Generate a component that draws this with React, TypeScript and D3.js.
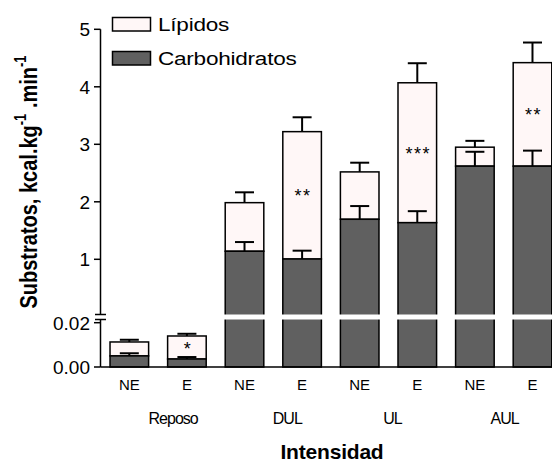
import React, { useEffect, useRef } from "react";
import * as d3 from "d3";

// bar order: Reposo NE, Reposo E, DUL NE, DUL E, UL NE, UL E, AUL NE, AUL E
const barLabels = ["NE", "E", "NE", "E", "NE", "E", "NE", "E"];
const groups = ["Reposo", "DUL", "UL", "AUL"];
const groupShift = [15, 14, 4, 1];
const carbohidratos = [0.005, 0.0036, 1.14, 1.005, 1.696, 1.637, 2.62, 2.62];
const carbErr = [0.0012, 0.0009, 0.16, 0.145, 0.23, 0.2, 0.25, 0.27];
const lipidos = [0.0063, 0.0104, 0.845, 2.215, 0.824, 2.433, 0.33, 1.8];
const totalErr = [0.001, 0.001, 0.18, 0.25, 0.16, 0.34, 0.11, 0.35];
const significance = ["", "*", "", "**", "", "***", "", "**"];
const upperTicks = [1, 2, 3, 4, 5];
const lowerTicks = [0, 0.02];

const FONT = "'Liberation Sans', Arial, sans-serif";
const LIP_FILL = "#fff7f7";
const CARB_FILL = "#606060";

export default function App() {
  const ref = useRef<SVGSVGElement>(null);

  useEffect(() => {
    const svg = d3.select(ref.current);
    svg.selectAll("*").remove();

    const axisX = 100.5;
    const baseY = 367;
    const breakLow = 319.5; // top of lower panel
    const breakHigh = 314.5; // bottom of upper panel

    const x = d3
      .scaleBand<number>()
      .domain(d3.range(barLabels.length))
      .range([100, 561.8])
      .paddingInner(0.33)
      .paddingOuter(0.174);

    const yLow = d3.scaleLinear().domain([0, 0.02]).range([baseY, 322.7]);
    const yHigh = d3.scaleLinear().domain([1, 5]).range([259.3, 29.3]);

    // map any value onto the broken axis
    const yv = (v: number) => (v <= 0.0215 ? yLow(v) : Math.min(yHigh(v), breakHigh));

    const bw = x.bandwidth();
    const g = svg.append("g");

    barLabels.forEach((_, i) => {
      const c = carbohidratos[i];
      const t = c + lipidos[i];
      const x0 = x(i)!;
      // lipid part
      g.append("rect")
        .attr("x", x0)
        .attr("y", yv(t))
        .attr("width", bw)
        .attr("height", yv(c) - yv(t))
        .attr("fill", LIP_FILL)
        .attr("stroke", "#000")
        .attr("stroke-width", 1.5);
      // carb part
      g.append("rect")
        .attr("x", x0)
        .attr("y", yv(c))
        .attr("width", bw)
        .attr("height", baseY - yv(c))
        .attr("fill", CARB_FILL)
        .attr("stroke", "#000")
        .attr("stroke-width", 1.5);

      // error bars
      const cx = x0 + bw / 2;
      [
        [t, t + totalErr[i]],
        [c, c + carbErr[i]],
      ].forEach(([v0, v1]) => {
        g.append("line")
          .attr("x1", cx).attr("x2", cx)
          .attr("y1", yv(v0)).attr("y2", yv(v1))
          .attr("stroke", "#000").attr("stroke-width", 2);
        g.append("line")
          .attr("x1", cx - 9.5).attr("x2", cx + 9.5)
          .attr("y1", yv(v1)).attr("y2", yv(v1))
          .attr("stroke", "#000").attr("stroke-width", 2);
      });

      if (significance[i]) {
        const mid = (yv(t) + yv(c)) / 2;
        g.append("text")
          .attr("x", cx + 1)
          .attr("y", mid + 7)
          .attr("text-anchor", "middle")
          .attr("font-family", FONT)
          .attr("font-size", 18)
          .attr("letter-spacing", 1.5)
          .text(significance[i]);
      }

      g.append("text")
        .attr("x", cx)
        .attr("y", 390)
        .attr("text-anchor", "middle")
        .attr("font-family", FONT)
        .attr("font-size", 15)
        .text(barLabels[i]);
    });

    // white gap of the axis break
    svg.append("rect")
      .attr("x", 102)
      .attr("y", breakHigh)
      .attr("width", 460)
      .attr("height", breakLow - breakHigh)
      .attr("fill", "#fff");

    // y axis segments
    const ax = svg.append("g").attr("stroke", "#000").attr("stroke-width", 1.5);
    ax.append("line").attr("x1", axisX).attr("x2", axisX).attr("y1", yHigh(5)).attr("y2", breakHigh);
    ax.append("line").attr("x1", axisX).attr("x2", axisX).attr("y1", breakLow).attr("y2", baseY);
    [breakHigh, breakLow].forEach((yy) => {
      ax.append("line").attr("x1", 95).attr("x2", 106).attr("y1", yy).attr("y2", yy);
    });
    ax.append("line").attr("x1", axisX).attr("x2", 552).attr("y1", baseY).attr("y2", baseY);

    const tickLab = (yy: number, label: string) => {
      ax.append("line").attr("x1", 94).attr("x2", axisX).attr("y1", yy).attr("y2", yy);
      svg.append("text")
        .attr("x", 90)
        .attr("y", yy)
        .attr("dy", "0.36em")
        .attr("text-anchor", "end")
        .attr("font-family", FONT)
        .attr("font-size", 19)
        .text(label);
    };
    upperTicks.forEach((v) => tickLab(yHigh(v), d3.format("d")(v)));
    lowerTicks.forEach((v) => tickLab(yLow(v), d3.format(".2f")(v)));

    // group labels
    groups.forEach((name, k) => {
      const cx = (x(2 * k)! + x(2 * k + 1)! + bw) / 2 + groupShift[k];
      svg.append("text")
        .attr("x", cx)
        .attr("y", 424)
        .attr("text-anchor", "middle")
        .attr("font-family", FONT)
        .attr("font-size", 16)
        .attr("letter-spacing", -1)
        .text(name);
    });

    // x title
    svg.append("text")
      .attr("x", 332)
      .attr("y", 459)
      .attr("text-anchor", "middle")
      .attr("font-family", FONT)
      .attr("font-size", 21)
      .attr("font-weight", "bold")
      .attr("letter-spacing", -0.2)
      .text("Intensidad");

    // y title (glyphs a little wider than tall, as in the reference)
    const yt = svg.append("text")
      .attr("transform", "translate(37,182) scale(1.2,1) rotate(-90)")
      .attr("text-anchor", "middle")
      .attr("font-family", FONT)
      .attr("font-size", 20)
      .attr("font-weight", "bold");
    yt.append("tspan").text("Substratos, kcal.kg");
    yt.append("tspan").attr("font-size", 13).attr("dy", -9).text("-1");
    yt.append("tspan").attr("dy", 9).text(" .min");
    yt.append("tspan").attr("font-size", 13).attr("dy", -9).text("-1");

    // legend
    const legend = [
      { name: "Lípidos", fill: LIP_FILL, y: 17.5 },
      { name: "Carbohidratos", fill: CARB_FILL, y: 51.5 },
    ];
    legend.forEach((d) => {
      svg.append("rect")
        .attr("x", 112.5)
        .attr("y", d.y)
        .attr("width", 38)
        .attr("height", 13.5)
        .attr("fill", d.fill)
        .attr("stroke", "#000")
        .attr("stroke-width", 1.5);
      svg.append("text")
        .attr("transform", `translate(158,${d.y + 13.5}) scale(1.22,1)`)
        .attr("font-family", FONT)
        .attr("font-size", 18.5)
        .attr("letter-spacing", -0.2)
        .text(d.name);
    });
  }, []);

  return (
    <svg
      ref={ref}
      width={552}
      height={464}
      style={{ position: "absolute", left: 0, top: 0, background: "#fff" }}
    />
  );
}
